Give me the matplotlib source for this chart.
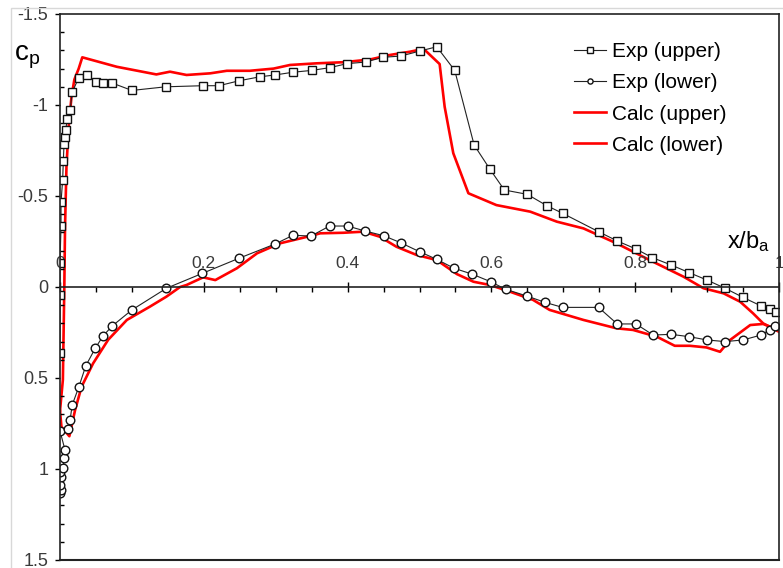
import numpy as np
import matplotlib
matplotlib.use("Agg")
import matplotlib.pyplot as plt
from matplotlib.patches import Rectangle

plt.rcParams['font.family'] = ['Liberation Sans', 'DejaVu Sans']

# experiment, upper surface (squares)
exp_up_x = [0.000, 0.000, 0.000, 0.0014, 0.0014, 0.0037, 0.0046, 0.0056, 0.0065, 0.008,
            0.010, 0.014, 0.017, 0.026, 0.037, 0.050, 0.060, 0.073, 0.100, 0.147,
            0.199, 0.221, 0.249, 0.278, 0.299, 0.324, 0.350, 0.375, 0.399, 0.425,
            0.449, 0.474, 0.501, 0.524, 0.549, 0.576, 0.598, 0.618, 0.650, 0.677,
            0.699, 0.749, 0.775, 0.801, 0.824, 0.850, 0.875, 0.900, 0.925, 0.950,
            0.975, 0.987, 0.996]
exp_up_cp = [0.36, 0.045, -0.13, -0.335, -0.465, -0.59, -0.69, -0.785, -0.826, -0.862,
             -0.925, -0.97, -1.07, -1.15, -1.165, -1.128, -1.12, -1.12, -1.08, -1.10,
             -1.106, -1.106, -1.133, -1.155, -1.165, -1.18, -1.19, -1.205, -1.227, -1.236,
             -1.262, -1.269, -1.297, -1.32, -1.19, -0.78, -0.647, -0.533, -0.509, -0.447,
             -0.405, -0.304, -0.253, -0.209, -0.161, -0.121, -0.079, -0.038, 0.007, 0.057,
             0.104, 0.123, 0.136]

# experiment, lower surface (circles)
exp_lo_x = [0.000, 0.001, 0.000, 0.002, 0.000, 0.0046, 0.0056, 0.007, 0.000, 0.0116,
            0.014, 0.017, 0.026, 0.036, 0.049, 0.060, 0.073, 0.100, 0.148, 0.198,
            0.249, 0.299, 0.324, 0.349, 0.375, 0.400, 0.424, 0.450, 0.474, 0.500,
            0.524, 0.548, 0.573, 0.599, 0.620, 0.649, 0.675, 0.699, 0.749, 0.775,
            0.801, 0.825, 0.850, 0.875, 0.900, 0.925, 0.950, 0.975, 0.987, 0.994]
exp_lo_cp = [1.13, 1.115, 1.088, 1.046, 1.015, 0.996, 0.941, 0.896, 0.791, 0.782,
             0.731, 0.648, 0.551, 0.432, 0.337, 0.268, 0.213, 0.126, 0.007, -0.075,
             -0.158, -0.236, -0.284, -0.280, -0.335, -0.335, -0.308, -0.282, -0.243, -0.194,
             -0.152, -0.103, -0.071, -0.029, 0.013, 0.049, 0.085, 0.112, 0.112, 0.203,
             0.203, 0.264, 0.260, 0.273, 0.291, 0.300, 0.291, 0.264, 0.236, 0.213]

# calculation, upper surface
calc_up_x = [0.000, 0.004, 0.006, 0.007, 0.009, 0.012, 0.016, 0.020, 0.026, 0.031,
             0.079, 0.134, 0.153, 0.176, 0.209, 0.232, 0.264, 0.297, 0.320, 0.357,
             0.394, 0.431, 0.459, 0.487, 0.505, 0.508, 0.528, 0.535, 0.547, 0.568,
             0.607, 0.654, 0.691, 0.728, 0.774, 0.820, 0.867, 0.895, 0.923, 0.946,
             0.964, 0.978, 0.9995]
calc_up_cp = [0.68, 0.51, 0.0, -0.33, -0.66, -0.88, -1.046, -1.14, -1.20, -1.262,
              -1.21, -1.168, -1.183, -1.165, -1.174, -1.188, -1.188, -1.20, -1.22, -1.229,
              -1.235, -1.25, -1.275, -1.293, -1.308, -1.30, -1.225, -0.99, -0.735, -0.515,
              -0.45, -0.414, -0.359, -0.322, -0.24, -0.148, -0.057, 0.007, 0.035, 0.081,
              0.145, 0.20, 0.245]

# calculation, lower surface
calc_lo_x = [0.000, 0.002, 0.013, 0.021, 0.030, 0.046, 0.067, 0.093, 0.125, 0.148,
             0.167, 0.176, 0.199, 0.216, 0.246, 0.274, 0.306, 0.348, 0.362, 0.394,
             0.422, 0.445, 0.468, 0.496, 0.524, 0.552, 0.575, 0.598, 0.626, 0.658,
             0.681, 0.728, 0.774, 0.797, 0.830, 0.855, 0.876, 0.899, 0.918, 0.932,
             0.960, 0.978, 0.9995]
calc_lo_cp = [0.68, 0.768, 0.82, 0.676, 0.548, 0.42, 0.29, 0.181, 0.108, 0.053,
              0.0, -0.011, -0.053, -0.038, -0.103, -0.185, -0.24, -0.28, -0.295, -0.298,
              -0.304, -0.276, -0.221, -0.176, -0.148, -0.071, -0.029, -0.011, 0.026, 0.071,
              0.126, 0.181, 0.227, 0.236, 0.273, 0.323, 0.323, 0.332, 0.356, 0.291,
              0.209, 0.203, 0.236]

x_ticks = [0, 0.2, 0.4, 0.6, 0.8, 1]
x_tick_labels = ['0', '0.2', '0.4', '0.6', '0.8', '1']
y_ticks = [-1.5, -1, -0.5, 0, 0.5, 1, 1.5]
y_tick_labels = ['-1.5', '-1', '-0.5', '0', '0.5', '1', '1.5']

fig = plt.figure(figsize=(7.83, 5.68), dpi=100)
ax = fig.add_axes([60 / 783, 8 / 568, 719 / 783, 546 / 568])

# light outer frame
fig.patches.append(Rectangle((11 / 783, -0.01), 1.0, 0.996, transform=fig.transFigure,
                             fill=False, edgecolor='#d8d8d8', lw=1.0))

ax.plot(exp_up_x, exp_up_cp, color='#222222', lw=0.8, marker='s', ms=6.2,
        mfc='white', mec='#111111', mew=1.0, label='Exp (upper)')
ax.plot(exp_lo_x, exp_lo_cp, color='#222222', lw=0.8, marker='o', ms=6.2,
        mfc='white', mec='#111111', mew=1.0, label='Exp (lower)')
ax.plot(calc_up_x, calc_up_cp, color='#ff0000', lw=1.9, label='Calc (upper)', zorder=1.5)
ax.plot(calc_lo_x, calc_lo_cp, color='#ff0000', lw=1.9, label='Calc (lower)', zorder=1.5)

ax.set_xlim(0, 1)
ax.set_ylim(1.5, -1.5)

ax.spines['bottom'].set_position(('data', 0))
for s in ax.spines.values():
    s.set_linewidth(1.2)
    s.set_color('#222222')
ax.plot([0, 1], [0, 0], transform=ax.transAxes, color='#222222', lw=1.5, clip_on=False)

ax.set_xticks(x_ticks)
ax.set_xticklabels(x_tick_labels)
ax.set_xticks(np.arange(0, 1.001, 0.05), minor=True)
ax.set_yticks(y_ticks)
ax.set_yticklabels(y_tick_labels)
ax.set_yticks(np.arange(-1.5, 1.501, 0.1), minor=True)

ax.tick_params(axis='x', which='major', direction='inout', length=7, width=1,
               pad=-26, labelsize=12.5, labelcolor='#3a3a3a')
ax.tick_params(axis='x', which='minor', direction='out', length=3.5, width=1)
ax.tick_params(axis='y', which='major', direction='out', length=3.5, width=1,
               pad=5, labelsize=13, labelcolor='#3a3a3a')
ax.tick_params(axis='y', which='minor', direction='in', length=3, width=1)

ax.text(-0.046, 0.921, r'$\mathregular{c_p}$', transform=ax.transAxes,
        fontsize=20, ha='center', va='center')
ax.text(0.957, 0.584, r'$\mathregular{x/b_a}$', transform=ax.transAxes,
        fontsize=17, ha='center', va='center')

ax.legend(loc='upper left', bbox_to_anchor=(0.715, 0.948), frameon=False,
          fontsize=15, handlelength=1.53, handletextpad=0.29, labelspacing=0.58,
          markerscale=0.6, borderaxespad=0, borderpad=0)

fig.savefig('out.png', dpi=100)
